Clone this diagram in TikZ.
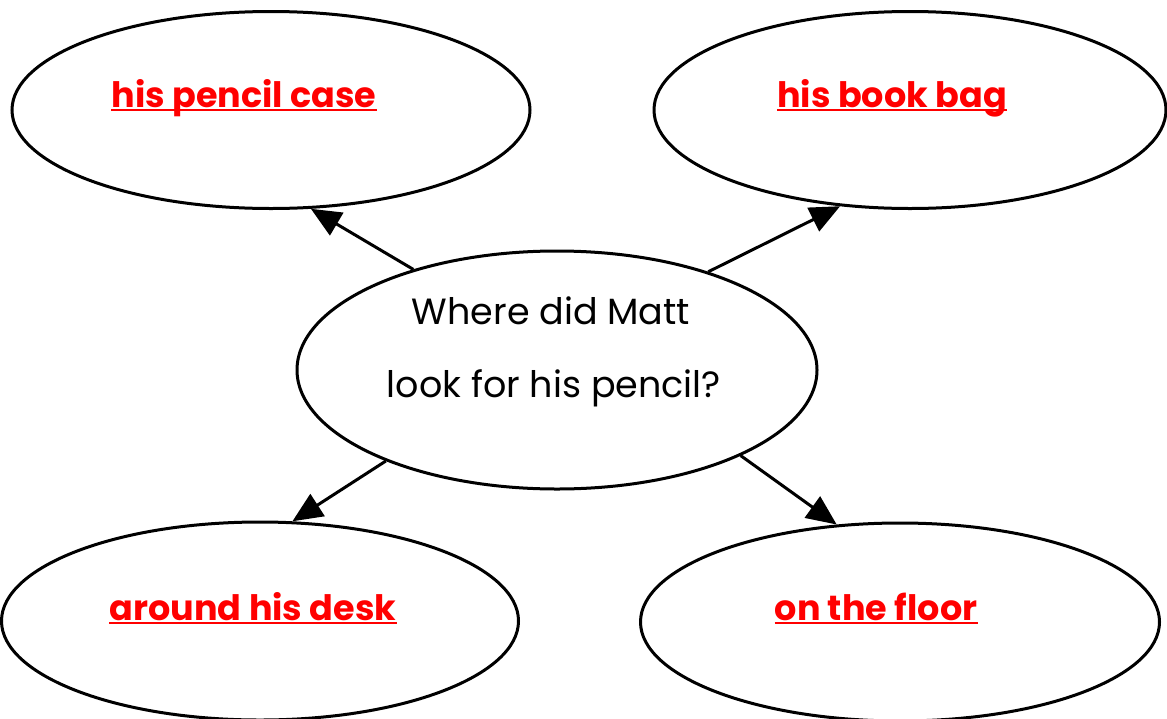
\documentclass[tikz,border=0pt]{standalone}
\usepackage{fontspec}
\setmainfont{Poppins}
\usetikzlibrary{shapes.geometric,arrows.meta}
\begin{document}
\begin{tikzpicture}[x=1pt,y=-1pt,
  bubble/.style={draw=black,line width=3pt,ellipse,inner sep=0pt},
  answer/.style={anchor=base,inner sep=0pt,text=red,font=\fontsize{35}{40}\selectfont\bfseries},
  question/.style={anchor=base,inner sep=0pt,font=\fontsize{36.5}{40}\selectfont},
  uline/.style={draw=red,line width=2pt},
  link/.style={draw=black,line width=3pt,-{Triangle[length=30pt,width=26pt]}}]
\useasboundingbox (0,0) rectangle (1167,718);
\node[bubble,minimum width=518pt,minimum height=197pt] (tl) at (271,110) {};
\node[bubble,minimum width=512pt,minimum height=197pt] (tr) at (910,110) {};
\node[bubble,minimum width=520pt,minimum height=238pt] (c) at (557,370) {};
\node[bubble,minimum width=517pt,minimum height=198pt] (bl) at (260,621) {};
\node[bubble,minimum width=519pt,minimum height=198pt] (br) at (900,622) {};
\node[answer] (ttl) at (244,107) {his pencil case};
\node[answer] (ttr) at (892,107) {his book bag};
\node[answer] (tbl) at (253,620) {around his desk};
\node[answer] (tbr) at (876,620) {on the floor};
\foreach \t in {ttl,ttr,tbl,tbr}
  \draw[uline] ([yshift=-3pt]\t.base west) -- ([yshift=-3pt]\t.base east);
\node[question] (q1) at (551,324) {Where did Matt};
\node[question] (q2) at (554,397) {look for his pencil?};
\draw[link] (c.145) -- (tl.292);
\draw[link] (c.33) -- (tr.234);
\draw[link] (c.208) -- (bl.72);
\draw[link] (c.-25) -- (br.123);
\end{tikzpicture}
\end{document}
